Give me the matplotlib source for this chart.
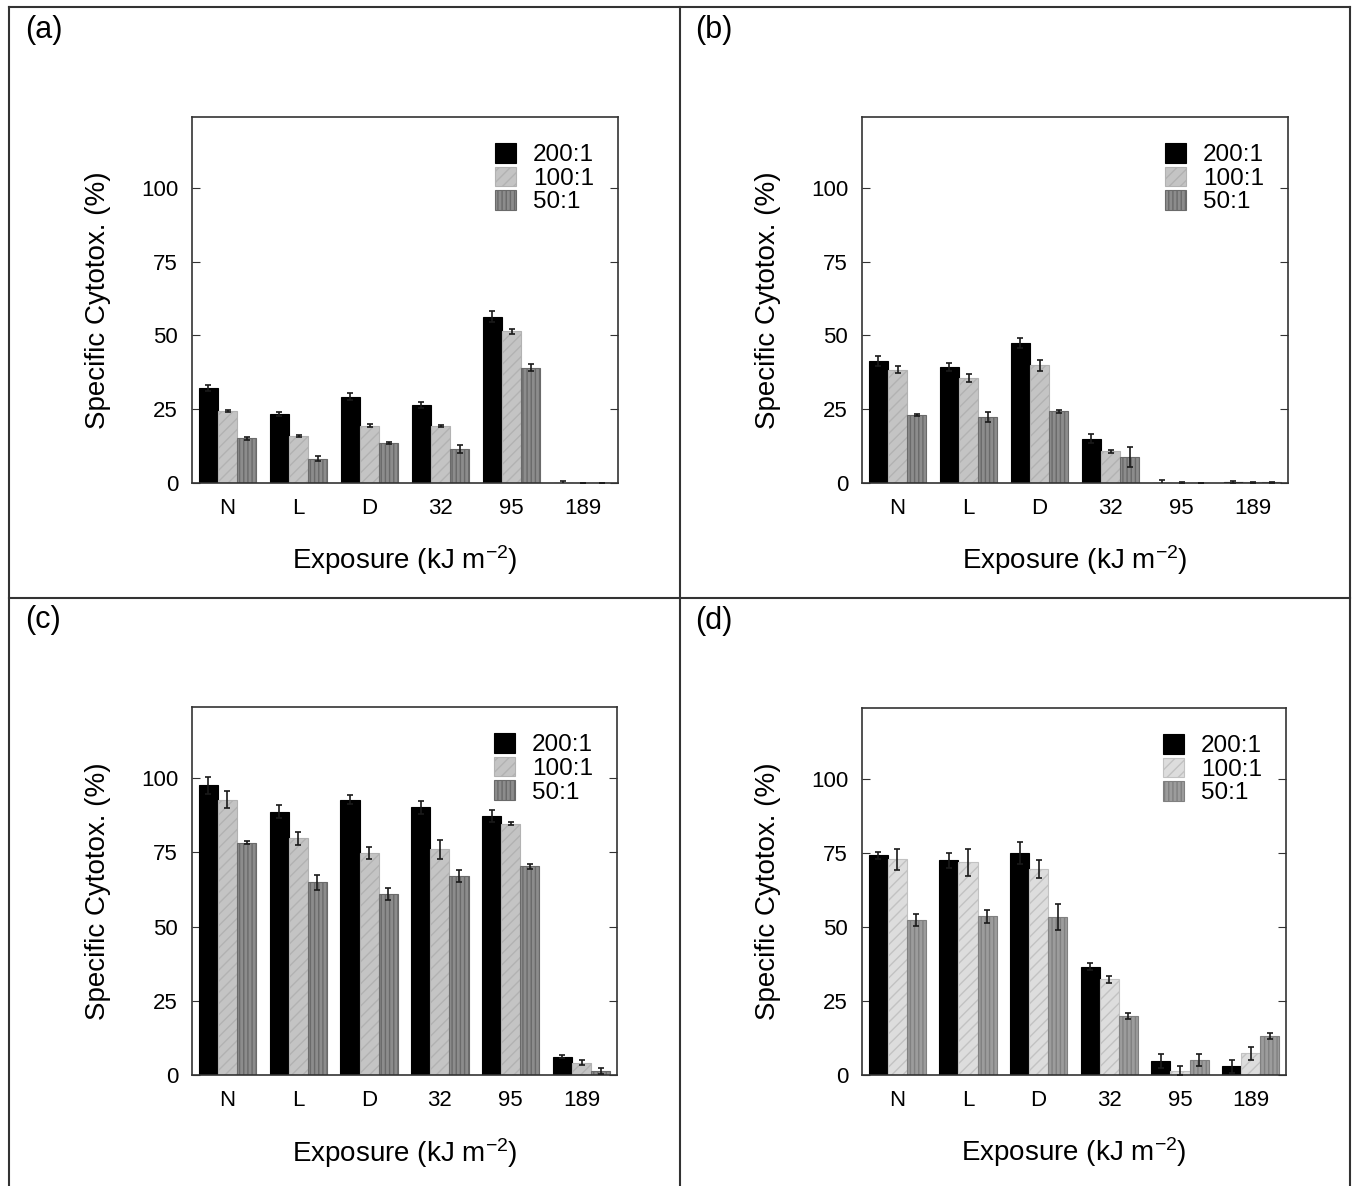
import matplotlib
matplotlib.use("Agg")
import matplotlib.pyplot as plt
from matplotlib.lines import Line2D
from matplotlib.patches import Patch
import numpy as np

plt.rcParams['font.family'] = ['Liberation Sans', 'DejaVu Sans']
plt.rcParams['mathtext.fontset'] = 'custom'
plt.rcParams['mathtext.rm'] = 'Liberation Sans'
plt.rcParams['mathtext.it'] = 'Liberation Sans:italic'
plt.rcParams['hatch.linewidth'] = 1.0

# données
categories = ['N', 'L', 'D', '32', '95', '189']
series_names = ['200:1', '100:1', '50:1']

a_200 = [32.1, 23.3, 29.3, 26.5, 56.4, 0.0]
a_200_err = [1.0, 0.6, 1.1, 1.1, 1.9, 0.8]
a_100 = [24.4, 16.0, 19.4, 19.4, 51.4, 0.0]
a_100_err = [0.3, 0.3, 0.5, 0.3, 0.8, 0.0]
a_50 = [15.1, 8.3, 13.5, 11.5, 39.1, 0.0]
a_50_err = [0.5, 0.7, 0.3, 1.3, 1.2, 0.0]

b_200 = [41.4, 39.4, 47.5, 15.0, 0.0, 0.3]
b_200_err = [1.6, 1.3, 1.7, 1.6, 1.0, 0.5]
b_100 = [38.3, 35.6, 39.9, 10.8, 0.0, 0.2]
b_100_err = [1.2, 1.4, 1.9, 0.5, 0.2, 0.2]
b_50 = [23.0, 22.3, 24.3, 8.7, 0.0, 0.2]
b_50_err = [0.3, 1.6, 0.5, 3.4, 0.0, 0.2]

c_200 = [97.6, 88.7, 92.8, 90.2, 87.2, 6.2]
c_200_err = [2.8, 2.2, 1.5, 2.1, 2.0, 0.5]
c_100 = [92.7, 79.7, 74.8, 76.1, 84.7, 4.1]
c_100_err = [2.9, 2.1, 2.1, 3.2, 0.6, 0.8]
c_50 = [78.3, 64.9, 61.0, 67.0, 70.3, 1.2]
c_50_err = [0.6, 2.6, 2.1, 2.0, 0.9, 1.0]

d_200 = [74.3, 72.5, 75.1, 36.6, 4.6, 2.9]
d_200_err = [1.2, 2.4, 3.7, 1.1, 2.4, 2.1]
d_100 = [72.9, 71.8, 69.6, 32.4, 1.5, 7.3]
d_100_err = [3.6, 4.4, 3.2, 1.2, 1.4, 2.3]
d_50 = [52.4, 53.6, 53.4, 19.8, 5.1, 13.3]
d_50_err = [2.1, 2.2, 4.4, 1.0, 2.0, 1.0]

# styles : (face, hachure/bord, motif)
style_std = [('#000000', '#000000', None),
             ('#c4c4c4', '#b2b2b2', '///'),
             ('#8c8c8c', '#6a6a6a', '||||')]
style_light = [('#000000', '#000000', None),
               ('#dddddd', '#c2c2c2', '///'),
               ('#9c9c9c', '#808080', '||||')]

W, H = 1354, 1186
fig = plt.figure(figsize=(W / 100, H / 100), dpi=100)

# boites en pixels : gauche, droite, haut, bas
panels = [
    ('(a)', (192, 618, 117, 483), (a_200, a_100, a_50),
     (a_200_err, a_100_err, a_50_err), style_std),
    ('(b)', (862, 1288, 117, 483), (b_200, b_100, b_50),
     (b_200_err, b_100_err, b_50_err), style_std),
    ('(c)', (192, 617, 707, 1075), (c_200, c_100, c_50),
     (c_200_err, c_100_err, c_50_err), style_std),
    ('(d)', (862, 1286, 708, 1075), (d_200, d_100, d_50),
     (d_200_err, d_100_err, d_50_err), style_light),
]

x = np.arange(len(categories))
w = 0.27

for tag, (l, r, t, b), vals, errs, sty in panels:
    ax = fig.add_axes([l / W, 1 - b / H, (r - l) / W, (b - t) / H])
    for k in range(3):
        face, hcol, hatch = sty[k]
        pos = x + (k - 1) * w
        ax.bar(pos, vals[k], width=w, color=face, edgecolor=hcol,
               hatch=hatch, linewidth=0.8, label=series_names[k], zorder=2)
        ax.errorbar(pos, vals[k], yerr=errs[k], fmt='none', ecolor='#1a1a1a',
                    elinewidth=1.2, capsize=2.2, capthick=1.2, zorder=3)
    ax.set_xlim(-0.5, 5.5)
    ax.set_ylim(0, 124)
    ax.set_yticks([0, 25, 50, 75, 100])
    ax.set_xticks(x)
    ax.set_xticklabels(categories)
    ax.tick_params(axis='y', direction='in', length=6, right=True,
                   labelsize=16, pad=10, color='#333333')
    ax.tick_params(axis='x', length=0, labelsize=16, pad=11)
    for sp in ax.spines.values():
        sp.set_color('#333333')
        sp.set_linewidth(1.2)
    ax.set_ylabel('Specific Cytotox. (%)', fontsize=20)
    ax.yaxis.set_label_coords(-0.19, 0.5)
    ax.set_xlabel('Exposure (kJ m$^{-2}$)', fontsize=20)
    ax.xaxis.set_label_coords(0.5, -0.165)

    handles = [Patch(facecolor=s[0], edgecolor=s[1], hatch=s[2], linewidth=0.8)
               for s in sty]
    ax.legend(handles, series_names, loc='upper right',
              bbox_to_anchor=(0.983, 0.975), frameon=False, fontsize=17.5,
              handlelength=0.85, handleheight=0.85, handletextpad=0.7,
              labelspacing=0.02, borderpad=0.2)

    fig.text((l - 167) / W, 1 - (t - 87) / H, tag, fontsize=22,
             va='center', ha='left')

# cadre des quatre panneaux
lc = '#333333'
fig.add_artist(Line2D([8.5 / W, 8.5 / W], [0, 1 - 7 / H], color=lc, lw=1.5))
fig.add_artist(Line2D([1350 / W, 1350 / W], [0, 1 - 7 / H], color=lc, lw=1.5))
fig.add_artist(Line2D([680 / W, 680 / W], [0, 1 - 7 / H], color=lc, lw=1.5))
fig.add_artist(Line2D([8.5 / W, 1350 / W], [1 - 7 / H, 1 - 7 / H], color=lc, lw=1.5))
fig.add_artist(Line2D([8.5 / W, 1350 / W], [1 - 598 / H, 1 - 598 / H], color=lc, lw=1.5))

fig.savefig('out.png', dpi=100)
